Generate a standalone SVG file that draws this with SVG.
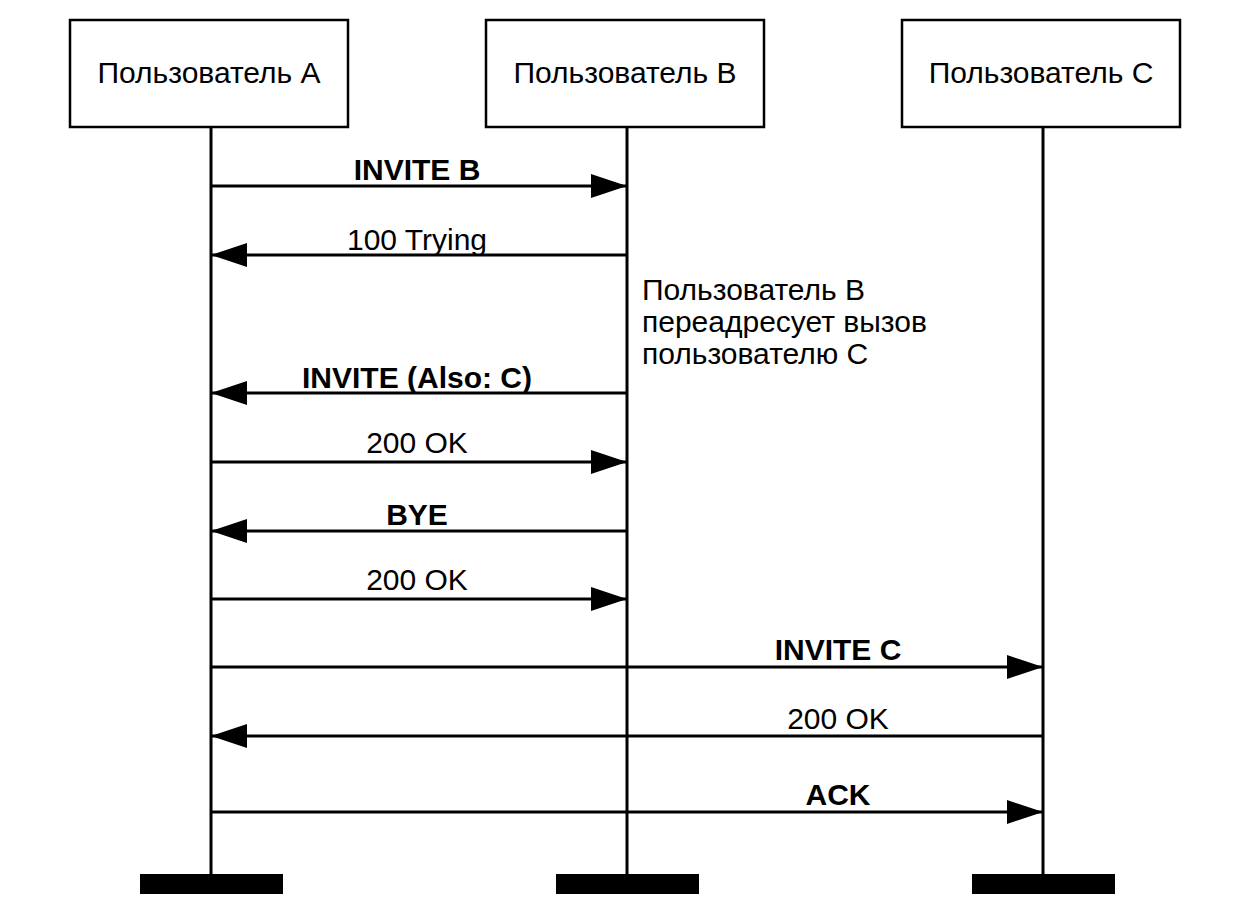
<svg xmlns="http://www.w3.org/2000/svg" width="1251" height="916" viewBox="0 0 1251 916">
<style>
.box{fill:#fff;stroke:#000;stroke-width:2.5}
.t{font-family:"Liberation Sans",Arial,sans-serif;font-size:30px;fill:#000}
.b{font-weight:bold}
.l{stroke:#000;stroke-width:3;fill:none}
.bar{fill:#000}
</style>
<defs>
<marker id="ah" markerWidth="36" markerHeight="24" refX="36" refY="12" orient="auto" markerUnits="userSpaceOnUse">
<path d="M0,0 L36,12 L0,24 Z" fill="#000"/>
</marker>
</defs>
<rect width="1251" height="916" fill="#fff"/>
<g id="lifelines">
<line class="l" x1="211" y1="127" x2="211" y2="876"/>
<line class="l" x1="627" y1="127" x2="627" y2="876"/>
<line class="l" x1="1043" y1="127" x2="1043" y2="876"/>
</g>
<g id="nodeA"><rect class="box" x="70" y="20" width="278" height="107"/><text class="t" x="209" y="83" text-anchor="middle">Пользователь A</text><rect class="bar" x="140" y="874" width="143" height="20"/></g>
<g id="nodeB"><rect class="box" x="486" y="20" width="278" height="107"/><text class="t" x="625" y="83" text-anchor="middle">Пользователь B</text><rect class="bar" x="556" y="874" width="143" height="20"/></g>
<g id="nodeC"><rect class="box" x="902" y="20" width="278" height="107"/><text class="t" x="1041" y="83" text-anchor="middle">Пользователь C</text><rect class="bar" x="972" y="874" width="143" height="20"/></g>
<g id="connectors">
<line class="l" x1="211" y1="186" x2="627" y2="186" marker-end="url(#ah)"/>
<line class="l" x1="627" y1="255" x2="211" y2="255" marker-end="url(#ah)"/>
<line class="l" x1="627" y1="393" x2="211" y2="393" marker-end="url(#ah)"/>
<line class="l" x1="211" y1="462" x2="627" y2="462" marker-end="url(#ah)"/>
<line class="l" x1="627" y1="531" x2="211" y2="531" marker-end="url(#ah)"/>
<line class="l" x1="211" y1="599" x2="627" y2="599" marker-end="url(#ah)"/>
<line class="l" x1="211" y1="667" x2="1043" y2="667" marker-end="url(#ah)"/>
<line class="l" x1="1043" y1="736" x2="211" y2="736" marker-end="url(#ah)"/>
<line class="l" x1="211" y1="812" x2="1043" y2="812" marker-end="url(#ah)"/>
</g>
<g id="labels">
<text class="t b" x="417" y="180" text-anchor="middle">INVITE B</text>
<text class="t" x="417" y="250" text-anchor="middle">100 Trying</text>
<text class="t b" x="417" y="388" text-anchor="middle">INVITE (Also: C)</text>
<text class="t" x="417" y="453" text-anchor="middle">200 OK</text>
<text class="t b" x="417" y="525" text-anchor="middle">BYE</text>
<text class="t" x="417" y="590" text-anchor="middle">200 OK</text>
<text class="t b" x="838" y="660" text-anchor="middle">INVITE C</text>
<text class="t" x="838" y="729" text-anchor="middle">200 OK</text>
<text class="t b" x="838" y="805" text-anchor="middle">ACK</text>
<text class="t" x="642" y="300">Пользователь B</text>
<text class="t" x="642" y="332">переадресует вызов</text>
<text class="t" x="642" y="364">пользователю C</text>
</g>
</svg>
